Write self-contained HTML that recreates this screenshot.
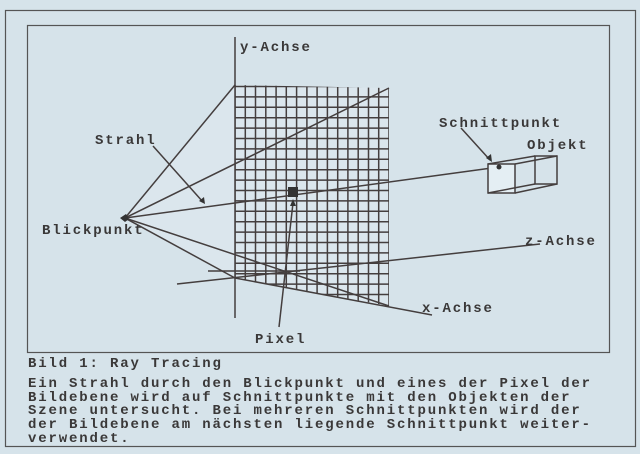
<!DOCTYPE html>
<html><head><meta charset="utf-8"><style>
html,body{margin:0;padding:0;background:#d8e5ec;}
svg{display:block}
text{font-family:"Liberation Mono",monospace;font-weight:bold;font-size:14px;fill:#3a3838;letter-spacing:1.85px}
</style></head><body>
<svg width="640" height="454" viewBox="0 0 640 454" xmlns="http://www.w3.org/2000/svg">
<defs><clipPath id="g"><polygon points="235,85 389,88 389,306 235,278"/></clipPath></defs>
<rect x="0" y="0" width="640" height="454" fill="#d6e3ea"/>
<rect x="5.5" y="10.5" width="630" height="436" fill="none" stroke="#555" stroke-width="1.2"/>
<rect x="27.5" y="25.5" width="582" height="327" fill="none" stroke="#555" stroke-width="1.2"/>
<polygon points="125,218 235,85 389,88 389,306 235,278" fill="#dfeaf0" opacity="0.5"/>
<g stroke="#443e3e" stroke-width="1.5" fill="none">
<g clip-path="url(#g)">
<path d="M235 0V320M245.3 0V320M255.5 0V320M265.8 0V320M276.1 0V320M286.3 0V320M296.6 0V320M306.9 0V320M317.1 0V320M327.4 0V320M337.7 0V320M347.9 0V320M358.2 0V320M368.5 0V320M378.7 0V320M389 0V320"/>
<path d="M230 86.5H395M230 96.9H395M230 107.3H395M230 117.7H395M230 128.1H395M230 138.5H395M230 148.9H395M230 159.3H395M230 169.7H395M230 180.1H395M230 190.5H395M230 200.9H395M230 211.3H395M230 221.7H395M230 232.1H395M230 242.5H395M230 252.9H395M230 263.3H395M230 273.7H395M230 284.1H395M230 294.5H395"/>
</g>
<line x1="235" y1="37" x2="235" y2="318"/>
<line x1="125" y1="218" x2="235" y2="85"/>
<line x1="125" y1="218" x2="389" y2="88"/>
<line x1="125" y1="218" x2="499" y2="167"/>
<line x1="125" y1="218" x2="389" y2="306"/>
<line x1="125" y1="218" x2="235" y2="278"/>
<line x1="235" y1="278" x2="432" y2="315"/>
<line x1="177" y1="284" x2="540" y2="244"/>
<line x1="208" y1="271" x2="300" y2="271"/>
<line x1="153" y1="146" x2="203" y2="202"/>
<line x1="279" y1="327" x2="293" y2="203"/>
<line x1="461" y1="128" x2="490" y2="160"/>
<rect x="488" y="164" width="27" height="29" fill="#e4eef3"/>
<rect x="535" y="156" width="22" height="28"/>
<line x1="488" y1="164" x2="535" y2="156"/><line x1="515" y1="164" x2="557" y2="156"/>
<line x1="488" y1="193" x2="535" y2="184"/><line x1="515" y1="193" x2="557" y2="184"/>
</g>
<rect x="288" y="187" width="10" height="10" fill="#333"/>
<polygon points="120,218 126,214 129,219 125,222" fill="#333"/>
<circle cx="499" cy="167" r="2.5" fill="#333"/>
<polygon points="205,204 199,201 204,197" fill="#333"/>
<polygon points="293,199 290,206 296,206" fill="#333"/>
<polygon points="492,162 486,158 491,154" fill="#333"/>
<text x="240" y="51">y-Achse</text>
<text x="95" y="144">Strahl</text>
<text x="42" y="234">Blickpunkt</text>
<text x="439" y="127">Schnittpunkt</text>
<text x="527" y="149">Objekt</text>
<text x="525" y="245">z-Achse</text>
<text x="422" y="312">x-Achse</text>
<text x="255" y="343">Pixel</text>
<text x="28" y="367">Bild 1: Ray Tracing</text>
<text x="28" y="387">Ein Strahl durch den Blickpunkt und eines der Pixel der</text>
<text x="28" y="401">Bildebene wird auf Schnittpunkte mit den Objekten der</text>
<text x="28" y="414">Szene untersucht. Bei mehreren Schnittpunkten wird der</text>
<text x="28" y="428">der Bildebene am nächsten liegende Schnittpunkt weiter-</text>
<text x="28" y="442">verwendet.</text>
</svg>
</body></html>
